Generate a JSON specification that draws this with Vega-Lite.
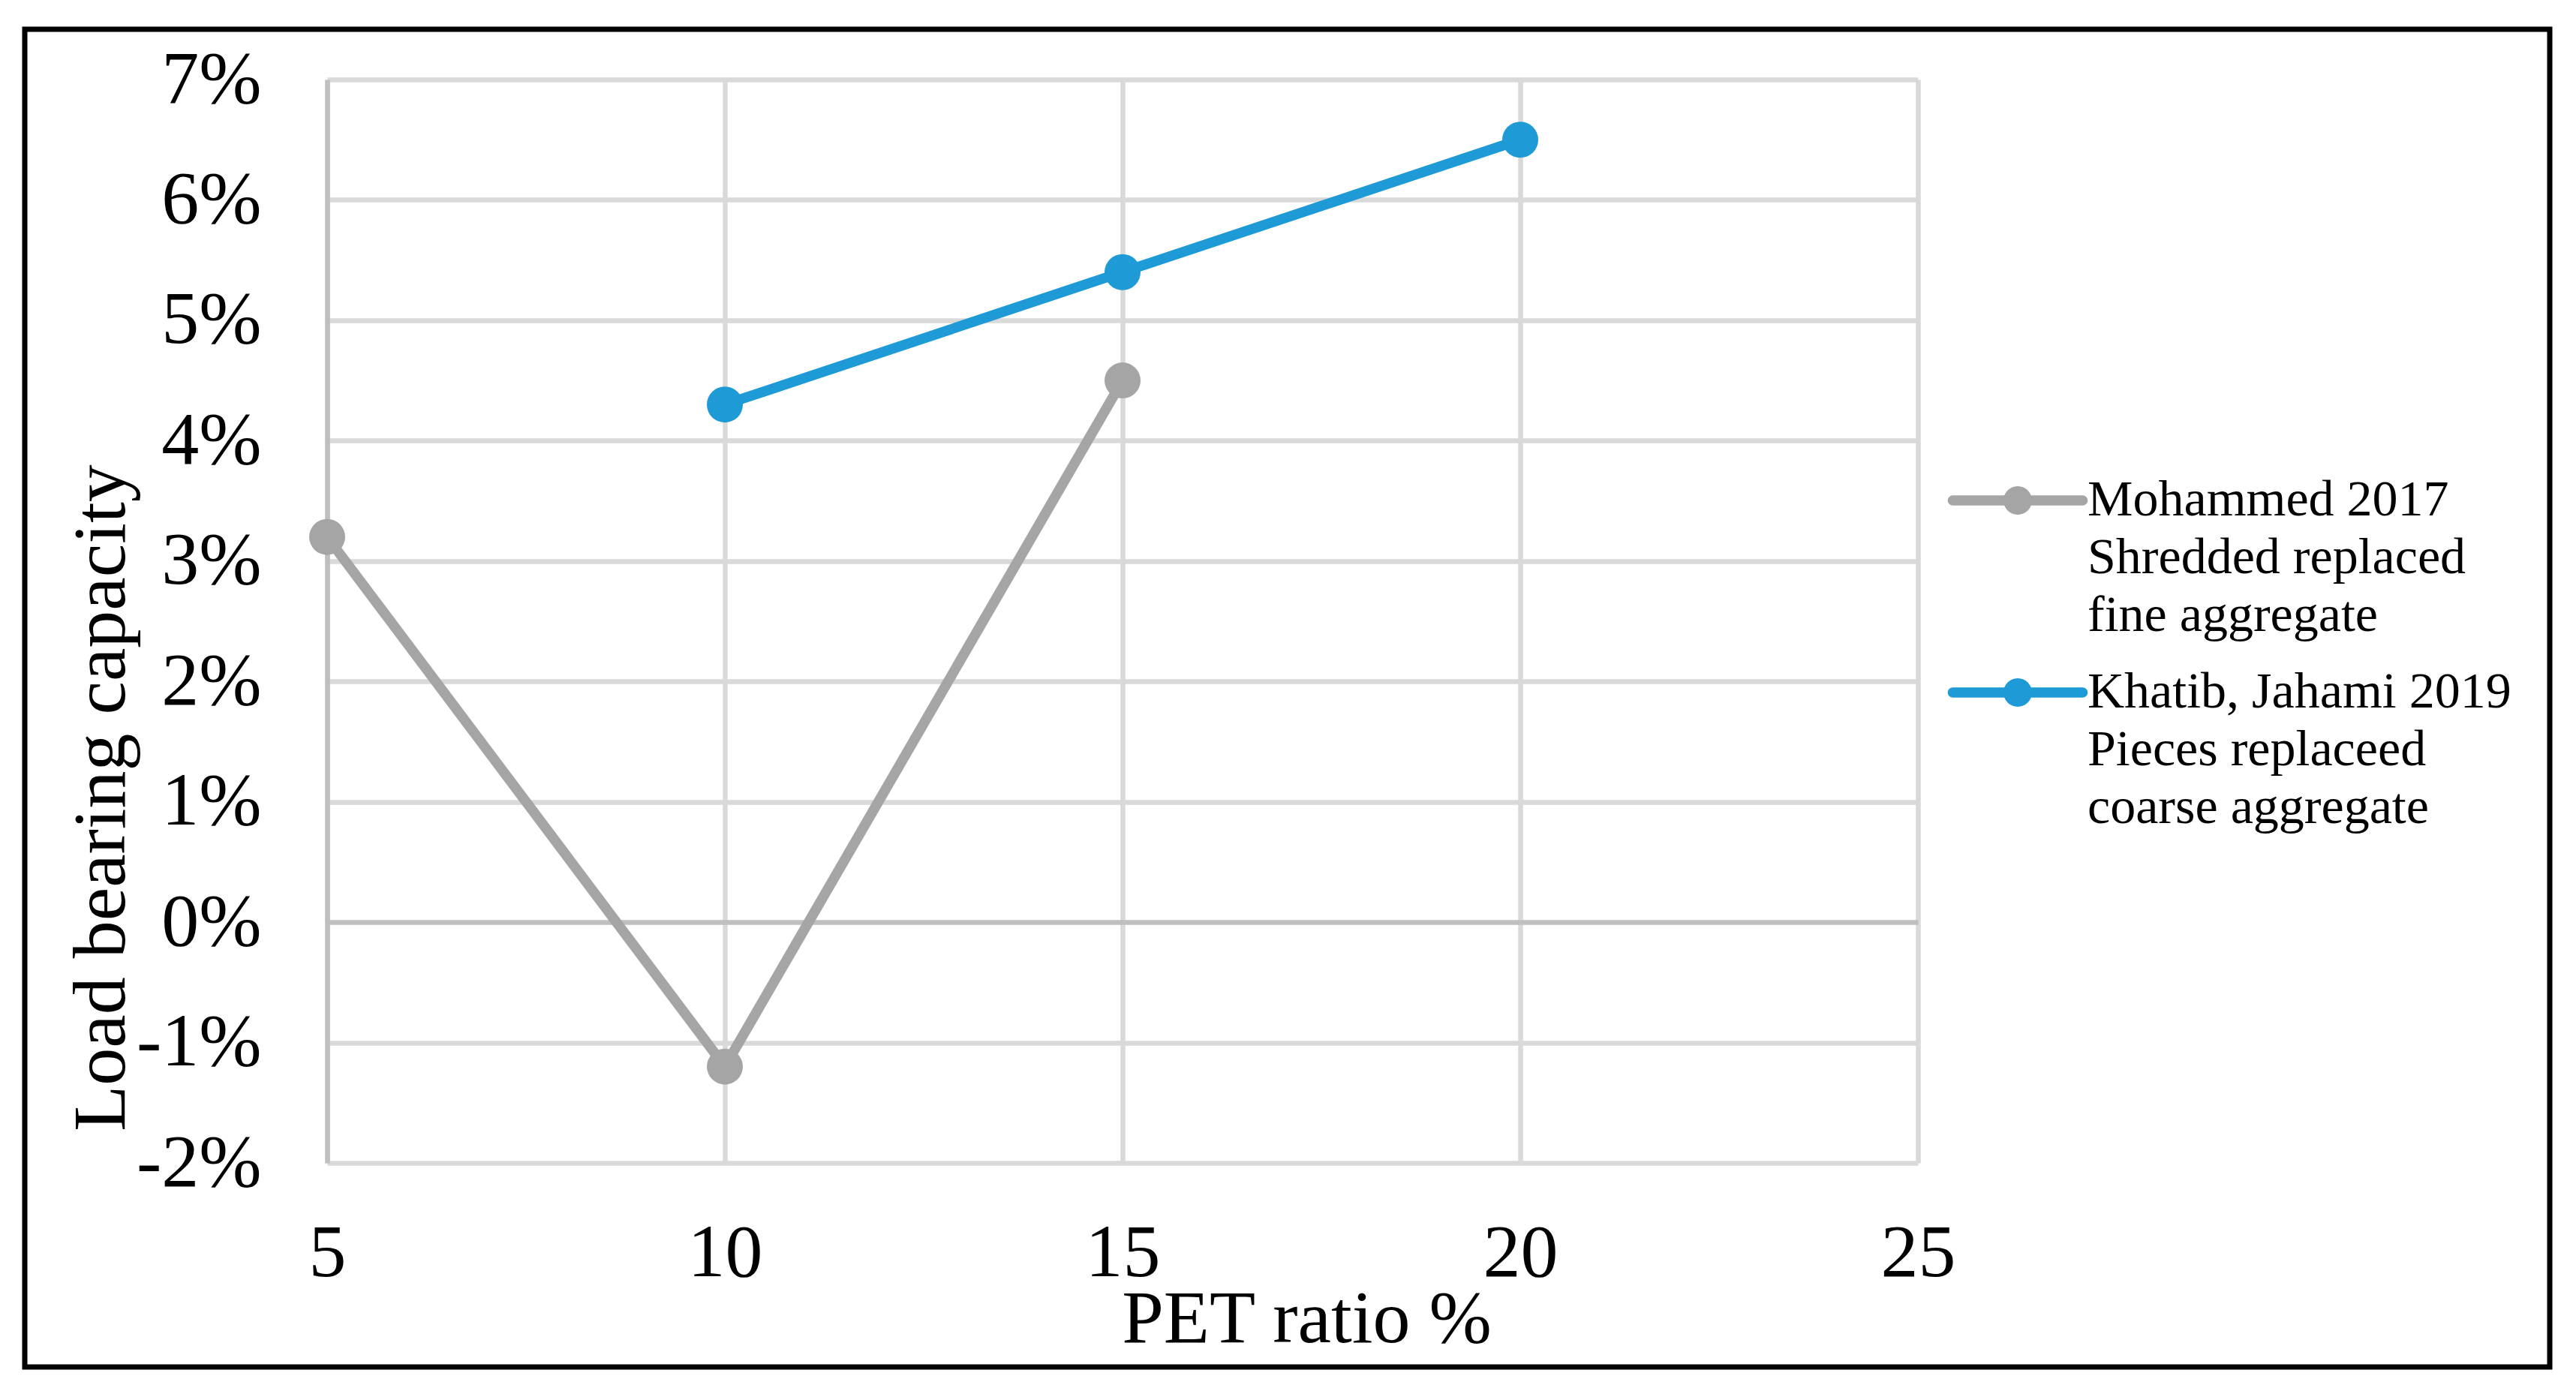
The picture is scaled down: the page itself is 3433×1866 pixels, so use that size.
{
  "$schema": "https://vega.github.io/schema/vega-lite/v6.json",
  "width": 3365,
  "height": 1783,
  "autosize": {"type": "none"},
  "padding": {"left": 33, "top": 39, "right": 35, "bottom": 44},
  "background": "white",
  "config": {
    "view": {"stroke": "black", "strokeWidth": 7},
    "font": "Liberation Serif"
  },
  "data": {
    "values": [
      {"series": "Mohammed 2017|Shredded replaced|fine aggregate", "pet": 5, "load": 0.032},
      {"series": "Mohammed 2017|Shredded replaced|fine aggregate", "pet": 10, "load": -0.012},
      {"series": "Mohammed 2017|Shredded replaced|fine aggregate", "pet": 15, "load": 0.045},
      {"series": "Khatib, Jahami 2019|Pieces replaceed|coarse aggregate", "pet": 10, "load": 0.043},
      {"series": "Khatib, Jahami 2019|Pieces replaceed|coarse aggregate", "pet": 15, "load": 0.054},
      {"series": "Khatib, Jahami 2019|Pieces replaceed|coarse aggregate", "pet": 20, "load": 0.065}
    ]
  },
  "encoding": {
    "y": {
      "field": "load",
      "type": "quantitative",
      "scale": {"domain": [-0.02, 0.07], "range": [1511, 67], "nice": false, "zero": false},
      "axis": {
        "values": [-0.02, -0.01, 0, 0.01, 0.02, 0.03, 0.04, 0.05, 0.06, 0.07],
        "grid": true,
        "gridColor": {"condition": {"test": "abs(datum.value) < 1e-9", "value": "#bfbfbf"}, "value": "#d9d9d9"},
        "gridWidth": 6.5,
        "domain": true,
        "domainColor": "#bfbfbf",
        "domainWidth": 6.5,
        "ticks": false,
        "tickSize": 0,
        "labelExpr": "round(datum.value * 100) + '%'",
        "labelFont": "Liberation Serif",
        "labelFontSize": 100,
        "labelColor": "black",
        "labelPadding": 88,
        "labelOverlap": false,
        "labelBound": false,
        "offset": -403,
        "title": "Load bearing capacity",
        "titleFont": "Liberation Serif",
        "titleFontSize": 100,
        "titleFontWeight": "normal",
        "titleColor": "black",
        "titleX": -271,
        "titleY": 1024,
        "titleAngle": 270,
        "titleBaseline": "alphabetic",
        "titleAlign": "center"
      }
    }
  },
  "layer": [
    {
      "mark": {"type": "line", "strokeWidth": 13.5, "strokeCap": "round", "strokeJoin": "round"},
      "encoding": {
        "x": {
          "field": "pet",
          "type": "quantitative",
          "scale": {"domain": [5, 25], "range": [403, 2523], "nice": false, "zero": false},
          "axis": {
            "orient": "top",
            "values": [5, 10, 15, 20, 25],
            "grid": true,
            "gridColor": "#d9d9d9",
            "gridWidth": 6.5,
            "domain": false,
            "ticks": false,
            "labels": false,
            "title": null,
            "offset": 0
          }
        },
        "color": {
          "field": "series",
          "type": "nominal",
          "scale": {
            "domain": ["Mohammed 2017|Shredded replaced|fine aggregate", "Khatib, Jahami 2019|Pieces replaceed|coarse aggregate"],
            "range": ["#a5a5a5", "#1e9bd7"]
          },
          "legend": null
        }
      }
    },
    {
      "mark": {"type": "point", "filled": true, "size": 2304, "opacity": 1, "shape": "circle", "strokeWidth": 0},
      "encoding": {
        "x": {
          "field": "pet",
          "type": "quantitative",
          "scale": {"domain": [5, 25], "range": [403, 2523], "nice": false, "zero": false},
          "axis": {
            "orient": "bottom",
            "values": [5, 10, 15, 20, 25],
            "grid": false,
            "domain": false,
            "ticks": false,
            "tickSize": 0,
            "labelFont": "Liberation Serif",
            "labelFontSize": 100,
            "labelColor": "black",
            "labelPadding": 71,
            "labelBaseline": "top",
            "labelFlush": false,
            "labelOverlap": false,
            "labelBound": false,
            "offset": -272,
            "title": "PET ratio %",
            "titleFont": "Liberation Serif",
            "titleFontSize": 100,
            "titleFontWeight": "normal",
            "titleColor": "black",
            "titleX": 1708,
            "titleY": 238,
            "titleBaseline": "alphabetic",
            "titleAlign": "center"
          }
        },
        "color": {
          "field": "series",
          "type": "nominal",
          "scale": {
            "domain": ["Mohammed 2017|Shredded replaced|fine aggregate", "Khatib, Jahami 2019|Pieces replaceed|coarse aggregate"],
            "range": ["#a5a5a5", "#1e9bd7"]
          },
          "legend": {
            "orient": "none",
            "legendX": 2622,
            "legendY": 594,
            "direction": "vertical",
            "title": null,
            "padding": 0,
            "symbolType": "M-4.325,-0.3375L4.325,-0.3375A0.3375,0.3375 0 0 1 4.325,0.3375L-4.325,0.3375A0.3375,0.3375 0 0 1 -4.325,-0.3375Z M0.95,0A0.95,0.95 0 1 1 -0.95,0A0.95,0.95 0 1 1 0.95,0Z",
            "symbolSize": 1600,
            "symbolStrokeWidth": 0,
            "symbolOpacity": 1,
            "labelFont": "Liberation Serif",
            "labelFontSize": 68,
            "labelColor": "black",
            "labelLimit": 0,
            "labelOffset": 59,
            "labelBaseline": "middle",
            "labelExpr": "split(datum.label, '|')",
            "rowPadding": 34,
            "encode": {"labels": {"update": {"lineHeight": {"value": 77}}}}
          }
        }
      }
    }
  ],
  "resolve": {"axis": {"x": "independent"}, "legend": {"color": "independent"}}
}
